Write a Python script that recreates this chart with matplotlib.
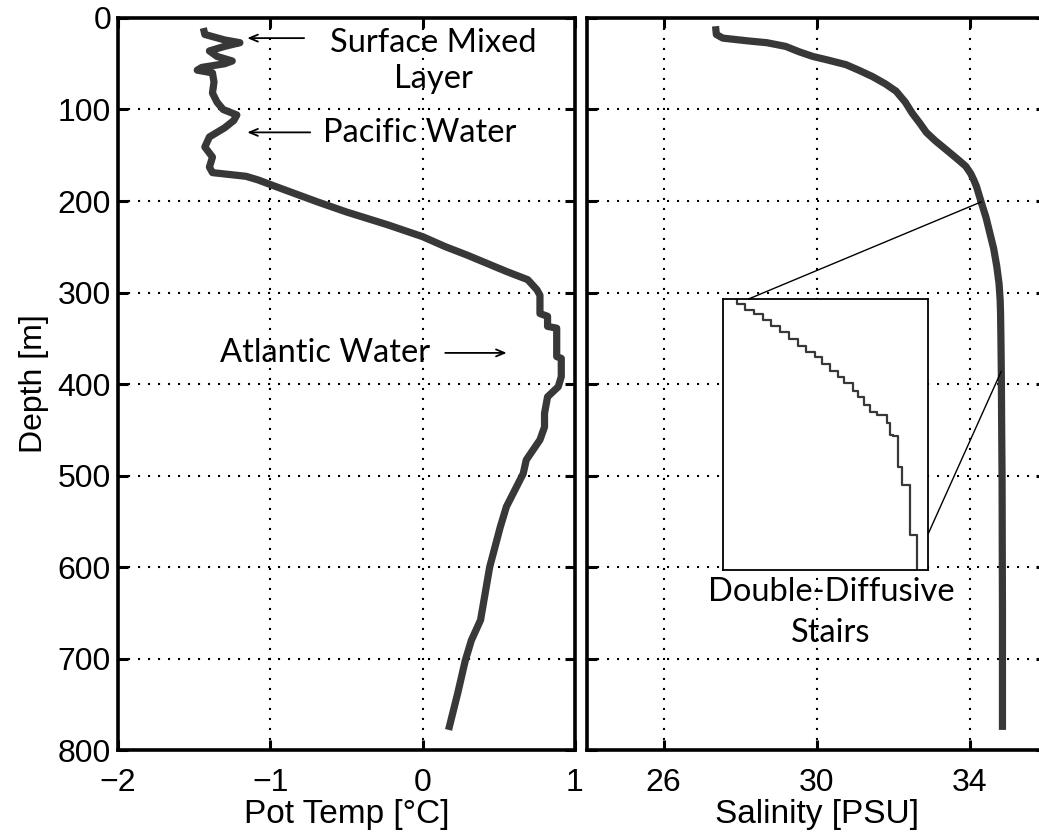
import numpy as np
import matplotlib
matplotlib.use("Agg")
import matplotlib.pyplot as plt
from matplotlib.patches import ConnectionPatch

# ---- Potential temperature profile ----
temp_depth = [11, 18, 24, 27, 31, 36, 42, 47, 50, 54,
              57, 60, 70, 82, 92, 100, 106, 112, 120, 130,
              141, 152, 163, 169, 173, 177, 182, 190, 201, 212,
              226, 239, 250, 259, 268, 277, 286, 297, 303, 323,
              326, 337, 339, 370, 372, 392, 403, 414, 432, 447,
              461, 483, 498, 534, 556, 600, 658, 680, 702, 738,
              778]
temp_value = [-1.44, -1.43, -1.30, -1.20, -1.30, -1.40, -1.35, -1.25, -1.30, -1.45,
              -1.48, -1.38, -1.37, -1.38, -1.35, -1.31, -1.22, -1.24, -1.30, -1.40,
              -1.43, -1.38, -1.40, -1.38, -1.16, -1.08, -1.00, -0.87, -0.69, -0.50,
              -0.23, 0.00, 0.15, 0.29, 0.42, 0.55, 0.69, 0.75, 0.77, 0.77,
              0.82, 0.82, 0.88, 0.88, 0.91, 0.91, 0.89, 0.82, 0.80, 0.80,
              0.77, 0.68, 0.66, 0.55, 0.51, 0.44, 0.38, 0.32, 0.28, 0.23,
              0.17]

# ---- Salinity profile ----
sal_depth = [9, 18, 22, 25, 27, 31, 37, 42, 46, 51,
             57, 64, 72, 80, 92, 104, 115, 125, 134, 144,
             153, 162, 170, 177, 184, 202, 218, 235, 252, 271,
             290, 308, 322, 350, 387, 450, 504, 580, 649, 778]
sal_value = [27.36, 27.38, 27.55, 28.20, 28.70, 29.19, 29.55, 29.90, 30.30, 30.77,
             31.10, 31.46, 31.80, 32.08, 32.32, 32.50, 32.70, 32.87, 33.10, 33.39,
             33.65, 33.90, 34.03, 34.11, 34.18, 34.31, 34.43, 34.53, 34.63, 34.71,
             34.77, 34.80, 34.81, 34.82, 34.83, 34.84, 34.85, 34.855, 34.86, 34.86]

# ---- Thermohaline staircase (layer top depth, layer salinity) ----
stair_depth = [200, 204, 209, 213, 218, 223, 228, 234, 240, 245,
               250, 256, 262, 267, 272, 279, 284, 291, 297, 299,
               306, 316, 317, 344, 359, 402, 432]
stair_sal = [34.313, 34.340, 34.368, 34.395, 34.420, 34.447, 34.475, 34.503, 34.530, 34.556,
             34.580, 34.604, 34.628, 34.648, 34.676, 34.690, 34.710, 34.728, 34.750, 34.782,
             34.790, 34.800, 34.817, 34.827, 34.853, 34.874, 34.874]

depth_ticks = [0, 100, 200, 300, 400, 500, 600, 700, 800]
temp_ticks = [-2, -1, 0, 1]
sal_ticks = [26, 30, 34]

LINE_COLOR = "#383838"
TICK_FONT = "Liberation Sans"
NOTE_FONT = "Lato"

plt.rcParams["font.family"] = [TICK_FONT, "DejaVu Sans"]

fig = plt.figure(figsize=(10.39, 8.33), dpi=100)
ax_t = fig.add_axes([0.1136, 0.0996, 0.4398, 0.8788])
ax_s = fig.add_axes([0.5650, 0.0996, 0.4418, 0.8788])

grid_kw = dict(color="black", linestyle=(0, (1, 3.8)), linewidth=1.5)

for ax in (ax_t, ax_s):
    ax.set_ylim(800, 0)
    ax.set_yticks(depth_ticks)
    ax.grid(True, **grid_kw)
    ax.tick_params(direction="in", length=7, width=2.2, top=True, right=True,
                   labelsize=23)
    ax.tick_params(axis="x", pad=13)
    ax.tick_params(axis="y", pad=5)
    for sp in ax.spines.values():
        sp.set_linewidth(2.6)
    ax.set_axisbelow(True)

# Temperature panel
ax_t.plot(temp_value, temp_depth, color=LINE_COLOR, lw=5.2,
          solid_joinstyle="round", solid_capstyle="butt")
ax_t.set_xlim(-2, 1)
ax_t.set_xticks(temp_ticks)
ax_t.set_xlabel("Pot Temp [°C]", fontsize=24, labelpad=1)
ax_t.set_ylabel("Depth [m]", fontsize=23, labelpad=6)

note_kw = dict(fontsize=23.5, family=[NOTE_FONT, "DejaVu Sans"], color="black")
arrow_kw = dict(arrowstyle="->,head_length=0.6,head_width=0.25", lw=1.3, color="black")

ax_t.text(0.07, 47, "Surface Mixed\nLayer", ha="center", va="center",
          linespacing=1.24, **note_kw)
ax_t.annotate("", xy=(-1.17, 22), xytext=(-0.76, 22), arrowprops=arrow_kw)

ax_t.text(-0.02, 126, "Pacific Water", ha="center", va="center", **note_kw)
ax_t.annotate("", xy=(-1.17, 125), xytext=(-0.72, 125), arrowprops=arrow_kw)

ax_t.text(-0.64, 366, "Atlantic Water", ha="center", va="center", **note_kw)
ax_t.annotate("", xy=(0.57, 366), xytext=(0.13, 366), arrowprops=arrow_kw)

# Salinity panel
ax_s.plot(sal_value, sal_depth, color=LINE_COLOR, lw=5.2,
          solid_joinstyle="round", solid_capstyle="butt")
ax_s.set_xlim(24, 36)
ax_s.set_xticks(sal_ticks)
ax_s.tick_params(labelleft=False)
ax_s.set_xlabel("Salinity [PSU]", fontsize=24, labelpad=1)

ax_s.text(30.38, 650, "Double-Diffusive\nStairs", ha="center", va="center",
          linespacing=1.45, **note_kw)

# Staircase inset
ax_in = fig.add_axes([0.6956, 0.3157, 0.1979, 0.3253])
ax_in.plot(stair_sal, stair_depth, color=LINE_COLOR, lw=1.6,
           drawstyle="steps-pre")
ax_in.set_xlim(34.27, 34.91)
ax_in.set_ylim(432, 200)
ax_in.set_xticks([])
ax_in.set_yticks([])
for sp in ax_in.spines.values():
    sp.set_linewidth(1.3)

# Connector lines between profile and inset
top_s = np.interp(201, sal_depth, sal_value)
bot_s = np.interp(386, sal_depth, sal_value)
for xy_main, xy_in in [((top_s, 201), (0.125, 1.0)), ((bot_s, 386), (1.0, 0.135))]:
    con = ConnectionPatch(xyA=xy_main, coordsA=ax_s.transData,
                          xyB=xy_in, coordsB=ax_in.transAxes,
                          color="black", lw=1.0)
    fig.add_artist(con)

fig.savefig("out.png", dpi=100)
